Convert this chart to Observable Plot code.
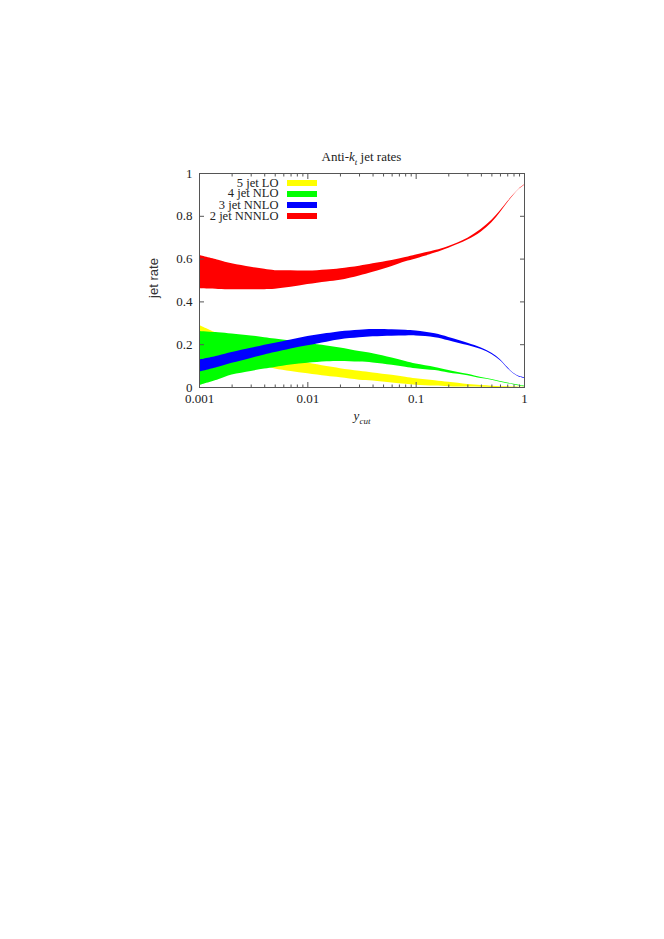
<!DOCTYPE html>
<html><head><meta charset="utf-8">
<script src="https://cdn.jsdelivr.net/npm/d3@7"></script>
<script src="https://cdn.jsdelivr.net/npm/@observablehq/plot@0.6"></script>
<style>
body{margin:0;background:#fff;font-family:"Liberation Serif","DejaVu Serif",serif;}
#wrap{position:relative;width:664px;height:939px;overflow:hidden;}
#chart{position:absolute;left:0;top:0;}
.t{position:absolute;font-size:13px;color:#222;white-space:nowrap;line-height:1;}
.leg{position:absolute;font-size:12.5px;color:#222;white-space:nowrap;line-height:11px;height:11px;}
.sw{position:absolute;height:6px;width:30px;}
</style></head><body><div id="wrap"><div id="chart"></div></div>
<script>
// y_cut grid
const ycut = [0.001,0.0015,0.002,0.003,0.004,0.005,0.007,0.01,0.015,0.02,0.03,0.04,0.06,0.08,0.1,0.15,0.2,0.3,0.4,0.5,0.6,0.7,0.8,0.9,1.0];
// 5 jet LO band
const lo5Upper = [0.290,0.250,0.222,0.190,0.168,0.155,0.133,0.114,0.098,0.088,0.076,0.068,0.057,0.048,0.041,0.032,0.024,0.014,0.009,0.006,0.004,0.003,0.002,0.001,0.0005];
const lo5Lower = [0.190,0.160,0.140,0.112,0.097,0.087,0.075,0.064,0.052,0.045,0.034,0.030,0.021,0.015,0.011,0.007,0.004,0.002,0.001,0.0005,0,0,0,0,0];
// 4 jet NLO band
const nlo4Upper = [0.262,0.256,0.250,0.241,0.233,0.227,0.218,0.207,0.194,0.185,0.168,0.158,0.138,0.122,0.110,0.094,0.080,0.062,0.047,0.037,0.028,0.021,0.015,0.010,0.006];
const nlo4Lower = [0.009,0.036,0.058,0.075,0.086,0.094,0.105,0.113,0.120,0.122,0.119,0.115,0.104,0.095,0.088,0.079,0.068,0.055,0.042,0.034,0.025,0.018,0.012,0.007,0.003];
// 3 jet NNLO band
const nnlo3Upper = [0.128,0.147,0.163,0.183,0.198,0.207,0.222,0.238,0.252,0.261,0.268,0.271,0.270,0.267,0.264,0.251,0.234,0.207,0.185,0.160,0.130,0.093,0.066,0.051,0.046];
const nnlo3Lower = [0.072,0.095,0.113,0.136,0.152,0.163,0.180,0.195,0.212,0.223,0.232,0.237,0.240,0.241,0.241,0.233,0.219,0.196,0.177,0.154,0.125,0.089,0.063,0.048,0.043];
// 2 jet NNNLO band
const nnnlo2Upper = [0.617,0.595,0.578,0.562,0.552,0.546,0.545,0.544,0.549,0.555,0.567,0.578,0.594,0.607,0.619,0.640,0.659,0.698,0.739,0.781,0.826,0.868,0.902,0.929,0.946];
const nnnlo2Lower = [0.461,0.458,0.457,0.457,0.457,0.459,0.468,0.481,0.493,0.501,0.521,0.538,0.566,0.588,0.601,0.628,0.651,0.689,0.727,0.770,0.818,0.863,0.899,0.927,0.944];

const seriesNames = ["5 jet LO","4 jet NLO","3 jet NNLO","2 jet NNNLO"];
const seriesColors = ["#ffff00","#00ff00","#0000ff","#ff0000"];
const seriesBands = [[lo5Lower,lo5Upper],[nlo4Lower,nlo4Upper],[nnlo3Lower,nnlo3Upper],[nnnlo2Lower,nnnlo2Upper]];

const xMajor = [0.001,0.01,0.1,1];
const xMajorLabels = ["0.001","0.01","0.1","1"];
const xMinor = [];
for (const d of [0.001,0.01,0.1]) for (let k=2;k<=9;k++) xMinor.push(d*k);
const yTicks = [0,0.2,0.4,0.6,0.8,1];
const yTickLabels = ["0","0.2","0.4","0.6","0.8","1"];

const bandMarks = seriesBands.map(([lo,hi],i) =>
  Plot.areaY(ycut.map((x,j)=>({x, lo: lo[j], hi: hi[j]})), {x:"x", y1:"lo", y2:"hi", fill: seriesColors[i], curve:"catmull-rom"})
);

const axisColor = "#555";
const chart = Plot.plot({
  width: 664, height: 440,
  marginLeft: 199, marginRight: 140, marginTop: 173, marginBottom: 53,
  style: {fontFamily: '"Liberation Serif", serif', fontSize: "13px", color: "#222", background: "transparent"},
  x: {type: "log", domain: [0.001, 1]},
  y: {domain: [0, 1]},
  marks: [
    ...bandMarks,
    Plot.frame({stroke: axisColor}),
    Plot.axisX(xMajor, {anchor:"bottom", tickSize:-5, text:null, stroke: axisColor, label:null}),
    Plot.axisX(xMajor, {anchor:"top", tickSize:-5, text:null, stroke: axisColor, label:null}),
    Plot.axisX(xMinor, {anchor:"bottom", tickSize:-2.5, text:null, stroke: axisColor, label:null}),
    Plot.axisX(xMinor, {anchor:"top", tickSize:-2.5, text:null, stroke: axisColor, label:null}),
    Plot.axisY(yTicks, {anchor:"left", tickSize:-5, text:null, stroke: axisColor, label:null}),
    Plot.axisY(yTicks, {anchor:"right", tickSize:-5, text:null, stroke: axisColor, label:null}),
    Plot.text(xMajor, {x: d=>d, frameAnchor:"bottom", lineAnchor:"top", dy: 6, text:(d,i)=>xMajorLabels[i], fill:"#222", fontSize: 13}),
    Plot.axisY(yTicks, {anchor:"left", tickSize:0, tickPadding:7, tickFormat:(d,i)=>yTickLabels[i], label:null, fill:"#222"})
  ]
});
const wrap = document.getElementById("wrap");
document.getElementById("chart").appendChild(chart);

function addText(html, style) {
  const d = document.createElement("div");
  d.className = "t"; d.innerHTML = html;
  Object.assign(d.style, style);
  wrap.appendChild(d);
  return d;
}
// Title
addText('Anti-<i>k<sub style="font-size:9px">t</sub></i> jet rates', {top:"150px", left:"361.5px", transform:"translateX(-50%)"});
// x label
addText('<i>y<sub style="font-size:9px">cut</sub></i>', {top:"409px", left:"362px", transform:"translateX(-50%)"});
// y label
addText('jet rate', {top:"278px", left:"153px", transform:"translate(-50%,-50%) rotate(-90deg)", fontFamily:'"Liberation Sans", sans-serif', fontSize:"13px", color:"#333"});

// Legend
const legTop = [183, 193.8, 205, 216.2];
seriesNames.forEach((name,i)=>{
  const l = document.createElement("div");
  l.className = "leg"; l.textContent = name;
  Object.assign(l.style, {top: (legTop[i]-5.5)+"px", right: (664-278.5)+"px"});
  wrap.appendChild(l);
  const s = document.createElement("div");
  s.className = "sw";
  Object.assign(s.style, {top:(legTop[i]-3)+"px", left:"287px", background: seriesColors[i]});
  wrap.appendChild(s);
});
</script>
</body></html>
